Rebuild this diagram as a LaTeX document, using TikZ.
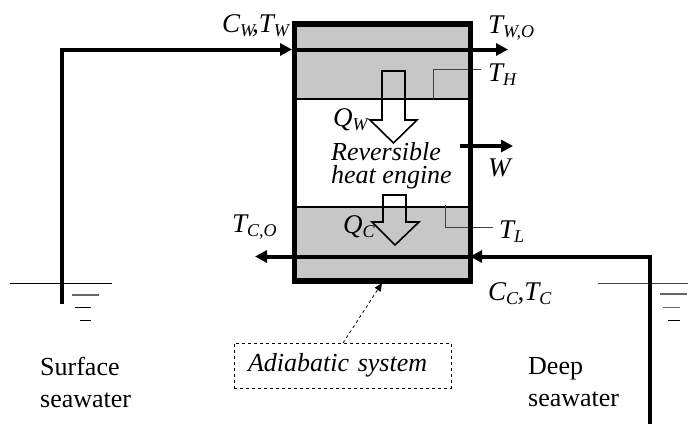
\documentclass[tikz,border=0pt]{standalone}
\usepackage{fontspec}
\setmainfont{Liberation Serif}
\usetikzlibrary{arrows.meta}
\tikzset{
  pipe/.style={line width=4pt,-{Triangle[length=12pt,width=12pt]}},
  wall/.style={line width=5.5pt,miter limit=10},
  thin line/.style={line width=1pt},
  sep/.style={line width=1.6pt},
  heat/.style={draw=black,line width=1.6pt},
  lbl/.style={inner sep=0pt,font=\fontsize{27}{29}\selectfont\itshape},
  txt/.style={inner sep=0pt,align=left,font=\fontsize{26}{32}\selectfont},
  eng/.style={inner sep=0pt,align=left,font=\fontsize{26}{23}\selectfont\itshape},
}
\newcommand{\lowsub}[1]{\raisebox{-4pt}{\fontsize{18}{20}\selectfont #1}}
\begin{document}
\begin{tikzpicture}[x=1pt,y=-1pt]
\useasboundingbox (0,0) rectangle (688,424);
% grey chambers
\fill[black!22] (294,24) rectangle (471,99);
\fill[black!22] (294,207) rectangle (471,281);
\draw[sep] (294,99) -- (471,99);
\draw[sep] (294,207) -- (471,207);
% sensor leaders
\coordinate (thA) at (433,99);
\coordinate (thB) at (481,69);
\draw[line width=.9pt,black!75] (thA) |- (thB);
\coordinate (tlA) at (445,205);
\coordinate (tlB) at (493,227);
\draw[line width=.9pt,black!75] (tlA) |- (tlB);
% heat arrows
\draw[heat] (382,120) -- (382,71) -- (405,71) -- (405,120) -- (417,120) -- (393.5,143) -- (370,120) -- cycle;
\draw[heat] (383,222) -- (383,195) -- (406,195) -- (406,222) -- (419,222) -- (395,245) -- (372,222) -- cycle;
% water surfaces
\draw[thin line] (10,283.5) -- (112,283.5);
\draw[line width=1.4pt,black!60] (72,295) -- (99,295);
\draw[thin line] (75,307.5) -- (91,307.5);
\draw[thin line] (80,320.5) -- (91,320.5);
\draw[thin line,black!75] (598,283.5) -- (688,283.5);
\draw[line width=1.2pt,black!60] (660,294) -- (687,294);
\draw[line width=1.2pt,black!60] (663,307.5) -- (680,307.5);
\draw[thin line] (668,320.5) -- (680,320.5);
% wall
\coordinate (wallNW) at (294.5,24);
\coordinate (wallSE) at (470.5,281);
\draw[wall] (wallNW) rectangle (wallSE);
% pipes
\coordinate (hotS) at (62,304);
\coordinate (hotC) at (62,49.5);
\coordinate (hotIn) at (292,49.5);
\coordinate (hotOut) at (508,49.5);
\draw[pipe,line join=miter] (hotS) -- (hotC) -- (hotIn);
\draw[pipe] (hotIn) -- (hotOut);
\coordinate (coldS) at (650,424);
\coordinate (coldC) at (650,256.5);
\coordinate (coldIn) at (470,256.5);
\coordinate (coldOut) at (255,256.5);
\draw[pipe,line join=miter] (coldS) -- (coldC) -- (coldIn);
\draw[pipe] (coldIn) -- (coldOut);
\coordinate (wS) at (460,146);
\coordinate (wE) at (513,146);
\draw[pipe] (wS) -- (wE);
% labels
\node[lbl,anchor=base west] (cw) at (222,32) {C\lowsub{W}\kern-3pt,T\lowsub{W}};
\node[lbl,anchor=base west] (two) at (488,33) {T\lowsub{W,O}};
\node[lbl,anchor=base west] (th) at (488,81) {T\lowsub{H}};
\node[lbl,anchor=base west] (qw) at (333,126) {Q\lowsub{W}};
\node[eng,anchor=north west] (eng) at (331,142) {Reversible\\heat engine};
\node[lbl,anchor=base west] (w) at (488,176) {W};
\node[lbl,anchor=base west] (qc) at (343,233) {Q\lowsub{C}};
\node[lbl,anchor=base west] (tl) at (499,238) {T\lowsub{L}};
\node[lbl,anchor=base west] (tco) at (232,232) {T\lowsub{C,O}};
\node[lbl,anchor=base west] (cc) at (488,300) {C\lowsub{C}\kern-0.5pt,T\lowsub{C}};
\node[txt,anchor=north west] (surf) at (40,357) {Surface\\seawater};
\node[txt,anchor=north west] (deep) at (528,357) {Deep\\seawater};
\node[draw,dashed,line width=1pt,inner xsep=14pt,inner ysep=0pt,text width=189pt,minimum height=45pt,font=\fontsize{26}{28}\selectfont\itshape] (adi) at (342.5,365.5) {Adiabatic system};
\coordinate (adiB) at (343,343);
\coordinate (adiT) at (382,283);
\draw[dashed,line width=.8pt,-{Triangle[length=8pt,width=7pt]}] (adiB) -- (adiT);
\end{tikzpicture}
\end{document}
